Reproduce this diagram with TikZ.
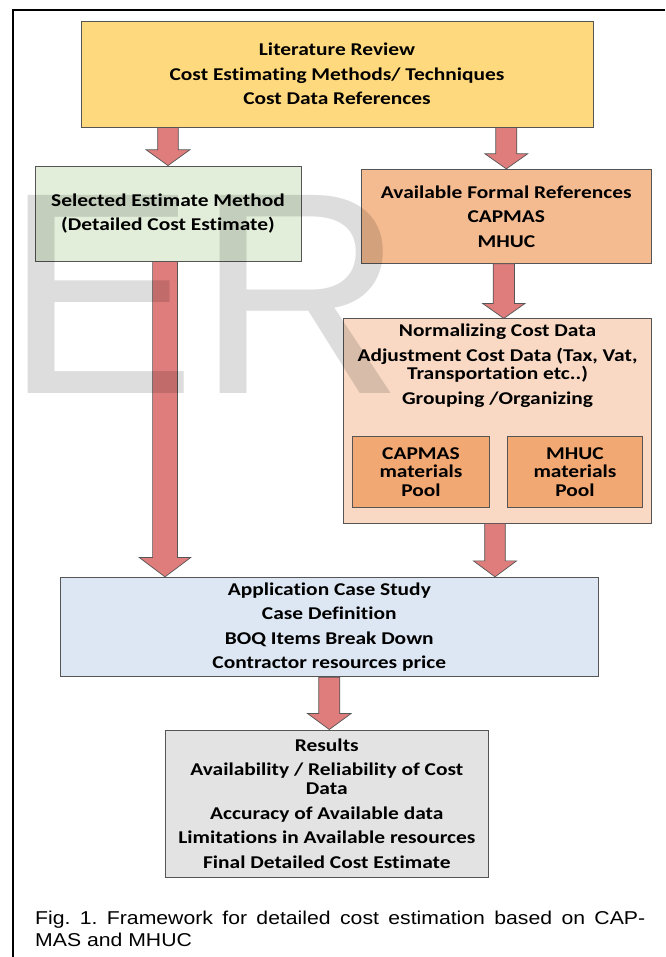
\documentclass[tikz,border=0pt]{standalone}
\usepackage{fontspec}
\setmainfont{Carlito}[FakeStretch=1.19, Ligatures=NoCommon]
\newfontfamily\capfont{Liberation Sans}[FakeStretch=1.14]
\newfontfamily\wmfont{Liberation Sans}
\usetikzlibrary{calc}
\definecolor{litfill}{HTML}{FFD97D}
\definecolor{selfill}{HTML}{E2EED9}
\definecolor{availfill}{HTML}{F4BA90}
\definecolor{normfill}{HTML}{F9D9C3}
\definecolor{poolfill}{HTML}{F2A873}
\definecolor{appfill}{HTML}{DCE7F3}
\definecolor{resfill}{HTML}{E3E3E3}
\definecolor{arrowfill}{HTML}{DF7C7C}
\definecolor{arrowline}{HTML}{555555}
\definecolor{boxline}{HTML}{555555}
\newcommand\blockarrow[5]{%
  \draw[barrow] let \p1=(#1), \p2=(#2) in
    (\x1-#3,\y1) -- (\x1+#3,\y1) -- (\x1+#3,\y2+#5) -- (\x1+#4,\y2+#5) --
    (\x1,\y2) -- (\x1-#4,\y2+#5) -- (\x1-#3,\y2+#5) -- cycle;}
\begin{document}
\begin{tikzpicture}[x=1pt,y=-1pt,
  box/.style={draw=boxline, line width=0.9pt, inner sep=0pt, align=center,
    font=\bfseries\fontsize{18}{24.5}\selectfont},
  txt/.style={inner sep=0pt, align=center, font=\bfseries\fontsize{18}{24.5}\selectfont},
  barrow/.style={fill=arrowfill, draw=arrowline, line width=0.7pt, line join=miter}]
\useasboundingbox (0,0) rectangle (665,957);
\fill[white] (0,0) rectangle (665,957);
% frame
\draw[line width=2pt] (665,10) -- (13,10) -- (13,957);
% boxes
\node[box, fill=litfill, minimum width=512pt, minimum height=106pt] (lit) at (337,74)
  {Literature Review\\Cost Estimating Methods/ Techniques\\Cost Data References};
\node[box, fill=selfill, minimum width=266pt, minimum height=95pt] (sel) at (168,213.5)
  {Selected Estimate Method\\(Detailed Cost Estimate)};
\node[box, fill=availfill, minimum width=290pt, minimum height=94pt] (avail) at (506.3,216.3)
  {Available Formal References\\CAPMAS\\MHUC};
\node[box, fill=normfill, minimum width=308.4pt, minimum height=204.3pt] (norm) at (497.5,421) {};
\node[txt, anchor=north] (normtxt) at (497.5,324)
  {Normalizing Cost Data\\Adjustment Cost Data (Tax, Vat,\\[-6.2pt]Transportation etc..)\\[0.5pt]Grouping /Organizing};
\node[box, fill=poolfill, minimum width=136.6pt, minimum height=70.6pt,
  font=\bfseries\fontsize{18}{18.3}\selectfont] (capmas) at (421,472) {CAPMAS\\materials\\Pool};
\node[box, fill=poolfill, minimum width=135.4pt, minimum height=70.6pt,
  font=\bfseries\fontsize{18}{18.3}\selectfont] (mhuc) at (575,472) {MHUC\\materials\\Pool};
\node[box, fill=appfill, minimum width=538.7pt, minimum height=99.4pt] (app) at (329.3,627)
  {Application Case Study\\Case Definition\\BOQ Items Break Down\\Contractor resources price};
\node[box, fill=resfill, minimum width=322.3pt, minimum height=147.3pt] (res) at (326.8,803.6)
  {Results\\Availability / Reliability of Cost\\[-5.5pt]Data\\Accuracy of Available data\\Limitations in Available resources\\Final Detailed Cost Estimate};
% arrows
\blockarrow{lit.south -| sel.north}{sel.north}{10.3pt}{21.8pt}{15.7pt}
\blockarrow{lit.south -| avail.north}{avail.north}{10.5pt}{21.3pt}{15pt}
\blockarrow{[xshift=-2.5pt]avail.south}{norm.north}{10.6pt}{21.3pt}{15pt}
\blockarrow{[xshift=-3pt]sel.south}{app.north}{12.4pt}{25.8pt}{19.4pt}
\blockarrow{[xshift=-2.5pt]norm.south}{app.north}{10.3pt}{21.6pt}{16pt}
\blockarrow{app.south}{res.north}{10.5pt}{21.8pt}{16pt}
% caption
\node[anchor=north west, inner sep=0pt, text width=610pt, align=justify,
  font=\capfont\fontsize{18.6}{22.7}\selectfont\frenchspacing] (cap) at (35,910.5)
  {\noindent Fig. 1. Framework for detailed cost estimation based on CAP-\linebreak MAS and MHUC};
% watermark
\node[anchor=base west, inner sep=0pt, text=black, text opacity=0.135,
  font=\wmfont\fontsize{288}{288}\selectfont] (wm) at (4.3,393) {ER};
\end{tikzpicture}
\end{document}
